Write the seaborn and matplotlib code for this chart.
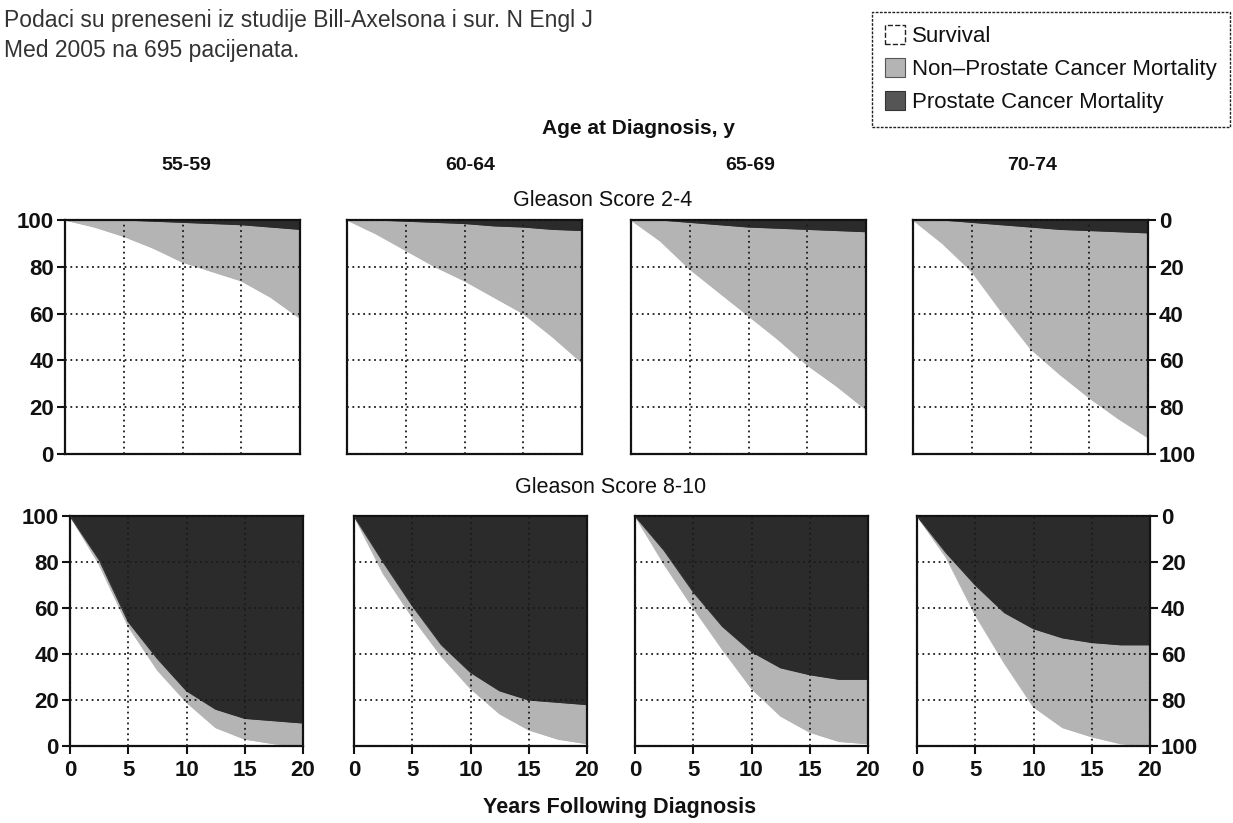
import numpy as np
import matplotlib
matplotlib.use("Agg")
import matplotlib.pyplot as plt
import seaborn as sns
import pandas as pd
from matplotlib.patches import Patch

# ---------------- data ----------------
years = [0, 2.5, 5, 7.5, 10, 12.5, 15, 17.5, 20]
age_groups = ["55-59", "60-64", "65-69", "70-74"]
x_ticks = [0, 5, 10, 15, 20]
y_ticks = [0, 20, 40, 60, 80, 100]

# Gleason 2-4: survival (%) and cumulative prostate-cancer mortality (%)
surv_g24_5559 = [100, 97, 93, 88, 82, 78, 74, 67, 58]
surv_g24_6064 = [100, 94, 87, 80, 74, 67, 60, 50, 39]
surv_g24_6569 = [100, 91, 79, 69, 59, 49, 38, 29, 19]
surv_g24_7074 = [100, 90, 78, 61, 45, 34, 24, 15, 7]
pcm_g24_5559 = [0, 0, 0, 0.5, 1, 1.5, 2, 3, 4]
pcm_g24_6064 = [0, 0, 0.5, 1, 1.5, 2.5, 3, 4, 4.5]
pcm_g24_6569 = [0, 0, 1, 2, 3, 3.5, 4, 4.5, 5]
pcm_g24_7074 = [0, 0, 1, 2, 3, 4, 4.5, 5, 5.5]

# Gleason 8-10
surv_g810_5559 = [100, 79, 52, 33, 19, 8, 3, 1, 0]
surv_g810_6064 = [100, 75, 56, 39, 25, 14, 7, 3, 1]
surv_g810_6569 = [100, 79, 60, 42, 25, 13, 6, 2, 1]
surv_g810_7074 = [100, 82, 57, 36, 17, 8, 4, 1, 0]
pcm_g810_5559 = [0, 19, 46, 62, 76, 84, 88, 89, 90]
pcm_g810_6064 = [0, 20, 39, 56, 68, 76, 80, 81, 82]
pcm_g810_6569 = [0, 15, 33, 48, 59, 66, 69, 71, 71]
pcm_g810_7074 = [0, 16, 30, 42, 49, 53, 55, 56, 56]

legend_labels = ["Survival", "Non\u2013Prostate Cancer Mortality", "Prostate Cancer Mortality"]

# ---------------- style ----------------
sns.set_theme(style="white")
plt.rcParams["font.family"] = ["Liberation Sans", "DejaVu Sans"]

LIGHT = "#b4b4b4"
DARK = "#2b2b2b"
INK = "#111111"
W, H = 1233, 823

fig = plt.figure(figsize=(W / 100, H / 100), dpi=100)
fig.patch.set_facecolor("white")


def rect(l, t, w, h):
    return [l / W, 1 - (t + h) / H, w / W, h / H]


rows = [
    dict(lefts=[65, 347, 631, 913], top=220, width=235, height=234,
         surv=[surv_g24_5559, surv_g24_6064, surv_g24_6569, surv_g24_7074],
         pcm=[pcm_g24_5559, pcm_g24_6064, pcm_g24_6569, pcm_g24_7074], bottom_row=False),
    dict(lefts=[70, 354, 635, 917], top=516, width=233, height=230,
         surv=[surv_g810_5559, surv_g810_6064, surv_g810_6569, surv_g810_7074],
         pcm=[pcm_g810_5559, pcm_g810_6064, pcm_g810_6569, pcm_g810_7074], bottom_row=True),
]

TICKSIZE = 16

for row in rows:
    for i, left in enumerate(row["lefts"]):
        ax = fig.add_axes(rect(left, row["top"], row["width"], row["height"]))
        ax.set_facecolor("white")
        s = np.array(row["surv"][i], dtype=float)
        b = 100 - np.array(row["pcm"][i], dtype=float)
        df = pd.DataFrame({"year": years, "survival": s, "boundary": b})
        ax.fill_between(df["year"], 0, df["survival"], color="white", lw=0, zorder=1)
        ax.fill_between(df["year"], df["survival"], df["boundary"], color=LIGHT, lw=0, zorder=1)
        ax.fill_between(df["year"], df["boundary"], 100, color=DARK, lw=0, zorder=1)
        sns.lineplot(data=df, x="year", y="survival", ax=ax, color=LIGHT, lw=0.8, zorder=1.5)
        sns.lineplot(data=df, x="year", y="boundary", ax=ax, color=DARK, lw=0.8, zorder=1.5)
        ax.set_xlim(0, 20)
        ax.set_ylim(0, 100)
        ax.set_xticks(x_ticks)
        ax.set_yticks(y_ticks)
        ax.set_xlabel("")
        ax.set_ylabel("")
        ax.grid(True, ls=(0, (1, 2)), color="#1a1a1a", lw=1.3)
        ax.set_axisbelow(False)
        for sp in ax.spines.values():
            sp.set_visible(True)
            sp.set_color(INK)
            sp.set_linewidth(1.6)
        # y axis
        if i == 0:
            ax.tick_params(axis="y", left=True, right=False, labelleft=True, labelright=False,
                           direction="out", length=6, width=1.5, color=INK,
                           labelsize=TICKSIZE, pad=2)
        elif i == 3:
            ax.tick_params(axis="y", left=False, right=True, labelleft=False, labelright=True,
                           direction="out", length=6, width=1.5, color=INK,
                           labelsize=TICKSIZE, pad=2)
            ax.set_yticklabels([str(100 - t) for t in y_ticks])
        else:
            ax.tick_params(axis="y", left=False, right=False, labelleft=False, labelright=False)
        # x axis
        if row["bottom_row"]:
            ax.tick_params(axis="x", bottom=True, labelbottom=True, direction="out",
                           length=6, width=1.5, color=INK, labelsize=TICKSIZE, pad=4)
        else:
            ax.tick_params(axis="x", bottom=False, labelbottom=False)
        for lab in ax.get_xticklabels() + ax.get_yticklabels():
            lab.set_color(INK)
            lab.set_fontweight("bold")

# ---------------- texts ----------------
fig.text(4 / W, 1 - 20 / H, "Podaci su preneseni iz studije Bill-Axelsona i sur. N Engl J",
         fontsize=16.5, color="#333333", va="center", ha="left")
fig.text(4 / W, 1 - 50 / H, "Med 2005 na 695 pacijenata.",
         fontsize=16.5, color="#333333", va="center", ha="left")

fig.text(638 / W, 1 - 128 / H, "Age at Diagnosis, y", fontsize=15, fontweight="bold",
         color=INK, ha="center", va="center")
for lbl, cx in zip(age_groups, [186, 470, 750, 1032]):
    fig.text(cx / W, 1 - 165 / H, lbl, fontsize=14, fontweight="bold",
             color=INK, ha="center", va="center")
fig.text(603 / W, 1 - 200 / H, "Gleason Score 2-4", fontsize=15.5,
         color=INK, ha="center", va="center")
fig.text(611 / W, 1 - 487 / H, "Gleason Score 8-10", fontsize=15.5,
         color=INK, ha="center", va="center")
fig.text(620 / W, 1 - 808 / H, "Years Following Diagnosis", fontsize=15.5,
         fontweight="bold", color=INK, ha="center", va="center")

# ---------------- legend ----------------
handles = [
    Patch(facecolor="white", edgecolor="#222222", linestyle="--", linewidth=1.0),
    Patch(facecolor=LIGHT, edgecolor="#555555", linewidth=0.8),
    Patch(facecolor="#555555", edgecolor="#333333", linewidth=0.8),
]
leg = fig.legend(handles, legend_labels, loc="upper left",
                 bbox_to_anchor=(872 / W, 1 - 12 / H), fontsize=16,
                 frameon=True, fancybox=False, handlelength=0.9, handleheight=0.9,
                 handletextpad=0.3, labelspacing=0.5, borderpad=0.6,
                 borderaxespad=0)
fr = leg.get_frame()
fr.set_edgecolor("#222222")
fr.set_linestyle((0, (2, 1)))
fr.set_linewidth(1.0)
fr.set_facecolor("white")
fr.set_alpha(1)
for t in leg.get_texts():
    t.set_color(INK)

fig.savefig("out.png", dpi=100, facecolor="white")
